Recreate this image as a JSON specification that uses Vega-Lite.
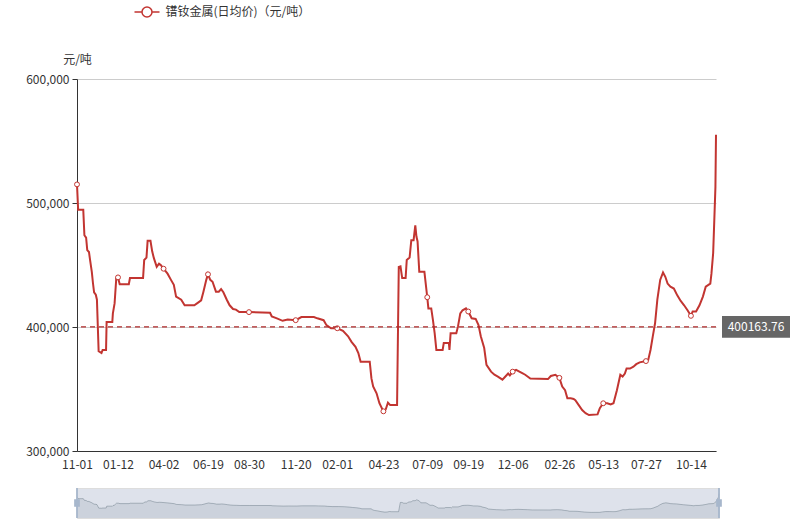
{
  "$schema": "https://vega.github.io/schema/vega-lite/v6.json",
  "autosize": {"type": "none"},
  "padding": {"left": 77, "top": 79, "right": 719, "bottom": 446},
  "background": "white",
  "bounds": "flush",
  "spacing": 37,
  "config": {
    "font": "Noto Sans CJK SC",
    "view": {"stroke": null},
    "axis": {"labelFont": "Noto Sans CJK SC", "labelFontSize": 12, "labelColor": "#333333", "titleFont": "Noto Sans CJK SC", "titleFontSize": 12, "titleFontWeight": "normal", "titleColor": "#333333"},
    "legend": {"labelFont": "Noto Sans CJK SC"}
  },
  "datasets": {
    "prices": [
      {"date": "2017-11-01", "price": 515000},
      {"date": "2017-11-03", "price": 494500},
      {"date": "2017-11-12", "price": 494500},
      {"date": "2017-11-14", "price": 474000},
      {"date": "2017-11-17", "price": 472000},
      {"date": "2017-11-19", "price": 462000},
      {"date": "2017-11-22", "price": 460500},
      {"date": "2017-11-24", "price": 454000},
      {"date": "2017-11-27", "price": 444500},
      {"date": "2017-11-29", "price": 435500},
      {"date": "2017-12-01", "price": 428000},
      {"date": "2017-12-04", "price": 426000},
      {"date": "2017-12-06", "price": 422000},
      {"date": "2017-12-09", "price": 380500},
      {"date": "2017-12-14", "price": 379000},
      {"date": "2017-12-16", "price": 381500},
      {"date": "2017-12-22", "price": 381500},
      {"date": "2017-12-23", "price": 404000},
      {"date": "2018-01-02", "price": 404000},
      {"date": "2018-01-03", "price": 411000},
      {"date": "2018-01-06", "price": 419000},
      {"date": "2018-01-09", "price": 439500},
      {"date": "2018-01-12", "price": 440000},
      {"date": "2018-01-15", "price": 434500},
      {"date": "2018-01-31", "price": 434500},
      {"date": "2018-02-02", "price": 439500},
      {"date": "2018-02-25", "price": 439500},
      {"date": "2018-02-27", "price": 454000},
      {"date": "2018-03-03", "price": 456000},
      {"date": "2018-03-05", "price": 469500},
      {"date": "2018-03-10", "price": 469500},
      {"date": "2018-03-13", "price": 461000},
      {"date": "2018-03-16", "price": 455500},
      {"date": "2018-03-21", "price": 448500},
      {"date": "2018-03-25", "price": 451000},
      {"date": "2018-03-28", "price": 450000},
      {"date": "2018-04-02", "price": 447000},
      {"date": "2018-04-09", "price": 443000},
      {"date": "2018-04-15", "price": 438000},
      {"date": "2018-04-20", "price": 434000},
      {"date": "2018-04-24", "price": 424500},
      {"date": "2018-05-03", "price": 422000},
      {"date": "2018-05-09", "price": 417500},
      {"date": "2018-05-26", "price": 417500},
      {"date": "2018-06-01", "price": 419500},
      {"date": "2018-06-07", "price": 421500},
      {"date": "2018-06-11", "price": 428500},
      {"date": "2018-06-16", "price": 438000},
      {"date": "2018-06-19", "price": 442500},
      {"date": "2018-06-23", "price": 438000},
      {"date": "2018-06-27", "price": 436500},
      {"date": "2018-07-03", "price": 428500},
      {"date": "2018-07-08", "price": 428500},
      {"date": "2018-07-12", "price": 430500},
      {"date": "2018-07-16", "price": 428000},
      {"date": "2018-07-22", "price": 422000},
      {"date": "2018-07-27", "price": 417500},
      {"date": "2018-08-02", "price": 414500},
      {"date": "2018-08-07", "price": 414000},
      {"date": "2018-08-13", "price": 412000},
      {"date": "2018-08-30", "price": 412000},
      {"date": "2018-10-06", "price": 411500},
      {"date": "2018-10-09", "price": 408500},
      {"date": "2018-10-18", "price": 407000},
      {"date": "2018-10-28", "price": 405000},
      {"date": "2018-11-06", "price": 406000},
      {"date": "2018-11-20", "price": 405500},
      {"date": "2018-11-30", "price": 408000},
      {"date": "2018-12-22", "price": 408000},
      {"date": "2018-12-28", "price": 407000},
      {"date": "2019-01-08", "price": 405500},
      {"date": "2019-01-13", "price": 401500},
      {"date": "2019-01-21", "price": 399000},
      {"date": "2019-02-01", "price": 399000},
      {"date": "2019-02-11", "price": 397000},
      {"date": "2019-02-20", "price": 392500},
      {"date": "2019-02-26", "price": 388000},
      {"date": "2019-03-05", "price": 384000},
      {"date": "2019-03-10", "price": 379000},
      {"date": "2019-03-14", "price": 372000},
      {"date": "2019-03-30", "price": 372000},
      {"date": "2019-04-02", "price": 358500},
      {"date": "2019-04-05", "price": 352000},
      {"date": "2019-04-11", "price": 346500},
      {"date": "2019-04-16", "price": 338500},
      {"date": "2019-04-23", "price": 332000},
      {"date": "2019-04-27", "price": 333500},
      {"date": "2019-05-01", "price": 339000},
      {"date": "2019-05-05", "price": 337000},
      {"date": "2019-05-17", "price": 337000},
      {"date": "2019-05-20", "price": 448500},
      {"date": "2019-05-23", "price": 449000},
      {"date": "2019-05-26", "price": 439500},
      {"date": "2019-06-01", "price": 439500},
      {"date": "2019-06-03", "price": 454000},
      {"date": "2019-06-08", "price": 456000},
      {"date": "2019-06-11", "price": 470000},
      {"date": "2019-06-15", "price": 470000},
      {"date": "2019-06-18", "price": 482000},
      {"date": "2019-06-20", "price": 473000},
      {"date": "2019-06-22", "price": 469000},
      {"date": "2019-06-25", "price": 444500},
      {"date": "2019-07-04", "price": 444500},
      {"date": "2019-07-09", "price": 424000},
      {"date": "2019-07-11", "price": 415000},
      {"date": "2019-07-16", "price": 415000},
      {"date": "2019-07-19", "price": 405500},
      {"date": "2019-07-22", "price": 395000},
      {"date": "2019-07-25", "price": 381500},
      {"date": "2019-08-05", "price": 381500},
      {"date": "2019-08-07", "price": 387000},
      {"date": "2019-08-16", "price": 387000},
      {"date": "2019-08-17", "price": 381500},
      {"date": "2019-08-19", "price": 395000},
      {"date": "2019-08-29", "price": 395000},
      {"date": "2019-09-01", "price": 400500},
      {"date": "2019-09-05", "price": 411000},
      {"date": "2019-09-09", "price": 413500},
      {"date": "2019-09-15", "price": 415000},
      {"date": "2019-09-19", "price": 412500},
      {"date": "2019-09-25", "price": 407000},
      {"date": "2019-10-02", "price": 406500},
      {"date": "2019-10-07", "price": 401500},
      {"date": "2019-10-11", "price": 392500},
      {"date": "2019-10-17", "price": 383000},
      {"date": "2019-10-21", "price": 369500},
      {"date": "2019-10-29", "price": 364000},
      {"date": "2019-11-04", "price": 361500},
      {"date": "2019-11-10", "price": 360000},
      {"date": "2019-11-18", "price": 357500},
      {"date": "2019-11-22", "price": 359500},
      {"date": "2019-11-28", "price": 362500},
      {"date": "2019-12-01", "price": 361000},
      {"date": "2019-12-06", "price": 364000},
      {"date": "2019-12-12", "price": 365500},
      {"date": "2019-12-22", "price": 363000},
      {"date": "2019-12-28", "price": 361500},
      {"date": "2020-01-06", "price": 358500},
      {"date": "2020-02-06", "price": 358000},
      {"date": "2020-02-11", "price": 360500},
      {"date": "2020-02-19", "price": 361500},
      {"date": "2020-02-26", "price": 359000},
      {"date": "2020-03-02", "price": 352000},
      {"date": "2020-03-07", "price": 349000},
      {"date": "2020-03-11", "price": 342500},
      {"date": "2020-03-17", "price": 342500},
      {"date": "2020-03-22", "price": 342000},
      {"date": "2020-03-25", "price": 341000},
      {"date": "2020-03-31", "price": 337000},
      {"date": "2020-04-06", "price": 333000},
      {"date": "2020-04-12", "price": 330500},
      {"date": "2020-04-18", "price": 329000},
      {"date": "2020-05-03", "price": 329500},
      {"date": "2020-05-07", "price": 334500},
      {"date": "2020-05-13", "price": 338500},
      {"date": "2020-05-20", "price": 338500},
      {"date": "2020-05-26", "price": 337500},
      {"date": "2020-05-31", "price": 338500},
      {"date": "2020-06-06", "price": 349000},
      {"date": "2020-06-12", "price": 361500},
      {"date": "2020-06-16", "price": 360000},
      {"date": "2020-06-20", "price": 362500},
      {"date": "2020-06-23", "price": 366500},
      {"date": "2020-06-29", "price": 366500},
      {"date": "2020-07-05", "price": 368000},
      {"date": "2020-07-10", "price": 370000},
      {"date": "2020-07-16", "price": 371500},
      {"date": "2020-07-27", "price": 372500},
      {"date": "2020-07-31", "price": 373500},
      {"date": "2020-08-04", "price": 381500},
      {"date": "2020-08-08", "price": 392500},
      {"date": "2020-08-12", "price": 403000},
      {"date": "2020-08-16", "price": 422000},
      {"date": "2020-08-21", "price": 438000},
      {"date": "2020-08-26", "price": 444000},
      {"date": "2020-08-30", "price": 440500},
      {"date": "2020-09-03", "price": 435000},
      {"date": "2020-09-08", "price": 432500},
      {"date": "2020-09-14", "price": 431000},
      {"date": "2020-09-20", "price": 425500},
      {"date": "2020-09-26", "price": 421000},
      {"date": "2020-10-02", "price": 417500},
      {"date": "2020-10-08", "price": 413500},
      {"date": "2020-10-14", "price": 409000},
      {"date": "2020-10-17", "price": 412500},
      {"date": "2020-10-23", "price": 412500},
      {"date": "2020-10-29", "price": 417500},
      {"date": "2020-11-04", "price": 424500},
      {"date": "2020-11-09", "price": 432500},
      {"date": "2020-11-17", "price": 435000},
      {"date": "2020-11-19", "price": 443000},
      {"date": "2020-11-22", "price": 459500},
      {"date": "2020-11-24", "price": 486000},
      {"date": "2020-11-26", "price": 513000},
      {"date": "2020-11-27", "price": 555000}
    ],
    "avg": [{"mean": 400163.76}]
  },
  "vconcat": [
    {
      "width": 639,
      "height": 372,
      "layer": [
        {
          "data": {"name": "prices"},
          "mark": {"type": "line", "strokeWidth": 2, "interpolate": "linear"},
          "encoding": {
            "x": {
              "field": "date", "type": "temporal",
              "scale": {"type": "utc", "nice": false},
              "axis": {
                "title": null,
                "values": [
                  {"year": 2017, "month": 11, "date": 1, "utc": true},
                  {"year": 2018, "month": 1, "date": 12, "utc": true},
                  {"year": 2018, "month": 4, "date": 2, "utc": true},
                  {"year": 2018, "month": 6, "date": 19, "utc": true},
                  {"year": 2018, "month": 8, "date": 30, "utc": true},
                  {"year": 2018, "month": 11, "date": 20, "utc": true},
                  {"year": 2019, "month": 2, "date": 1, "utc": true},
                  {"year": 2019, "month": 4, "date": 23, "utc": true},
                  {"year": 2019, "month": 7, "date": 9, "utc": true},
                  {"year": 2019, "month": 9, "date": 19, "utc": true},
                  {"year": 2019, "month": 12, "date": 6, "utc": true},
                  {"year": 2020, "month": 2, "date": 26, "utc": true},
                  {"year": 2020, "month": 5, "date": 13, "utc": true},
                  {"year": 2020, "month": 7, "date": 27, "utc": true},
                  {"year": 2020, "month": 10, "date": 14, "utc": true}
                ],
                "labelExpr": "utcFormat(datum.value, '%m-%d')",
                "ticks": false,
                "tickSize": 0,
                "labelPadding": 8,
                "domainColor": "#333333",
                "grid": false,
                "labelOverlap": false,
                "labelFlush": false
              }
            },
            "y": {
              "field": "price", "type": "quantitative",
              "scale": {"domain": [300000, 600000], "nice": false, "zero": false},
              "axis": {
                "values": [300000, 400000, 500000, 600000],
                "labelExpr": "format(datum.value, ',')",
                "title": "元/吨",
                "titleAngle": 0,
                "titleX": 0,
                "titleY": -20,
                "titleAlign": "center",
                "titleBaseline": "middle",
                "tickSize": 5,
                "tickColor": "#333333",
                "domainColor": "#333333",
                "labelPadding": 3,
                "grid": true,
                "gridColor": "#cccccc"
              }
            },
            "color": {
              "datum": "镨钕金属(日均价)（元/吨）",
              "type": "nominal",
              "scale": {"range": ["#c23531"]},
              "legend": {
                "orient": "none",
                "legendX": 56.5,
                "legendY": -80.5,
                "title": null,
                "direction": "horizontal",
                "symbolType": "M-1,0H-0.4M0.4,0H1M-0.4,0A0.4,0.4,0,1,1,0.4,0A0.4,0.4,0,1,1,-0.4,0",
                "symbolSize": 625,
                "symbolStrokeWidth": 1.5,
                "labelFontSize": 12,
                "labelColor": "#333333",
                "labelOffset": 5,
                "padding": 0
              }
            }
          }
        },
        {
          "data": {"name": "prices"},
          "transform": [
            {"filter": "indexof(['2017-11-01','2018-01-12','2018-04-02','2018-06-19','2018-08-30','2018-11-20','2019-02-01','2019-04-23','2019-07-09','2019-09-19','2019-12-06','2020-02-26','2020-05-13','2020-07-27','2020-10-14'], utcFormat(toDate(datum.date), '%Y-%m-%d')) >= 0"}
          ],
          "mark": {"type": "point", "filled": true, "fill": "white", "stroke": "#c23531", "strokeWidth": 1, "size": 24, "opacity": 1},
          "encoding": {
            "x": {"field": "date", "type": "temporal"},
            "y": {"field": "price", "type": "quantitative"}
          }
        },
        {
          "data": {"name": "avg"},
          "mark": {"type": "rule", "color": "#b02a2a", "strokeDash": [5, 4], "strokeWidth": 1.3},
          "encoding": {"y": {"field": "mean", "type": "quantitative"}}
        },
        {
          "data": {"name": "avg"},
          "mark": {"type": "point", "shape": "M-1,-0.32H1V0.32H-1Z", "size": 4624, "filled": true, "color": "#666666", "opacity": 1, "xOffset": 40, "clip": false},
          "encoding": {
            "x": {"value": "width"},
            "y": {"field": "mean", "type": "quantitative"}
          }
        },
        {
          "data": {"name": "avg"},
          "mark": {"type": "text", "color": "white", "fontSize": 12, "align": "center", "baseline": "middle", "dx": 40},
          "encoding": {
            "x": {"value": "width"},
            "y": {"field": "mean", "type": "quantitative"},
            "text": {"field": "mean", "type": "quantitative", "format": ".2f"}
          }
        }
      ]
    },
    {
      "width": 642,
      "height": 30,
      "view": {"fill": "#dee2eb", "stroke": "#dddddd"},
      "layer": [
        {
          "data": {"name": "prices"},
          "mark": {"type": "area", "color": "#2f4554", "opacity": 0.1, "clip": true},
          "encoding": {
            "x": {"field": "date", "type": "temporal", "scale": {"type": "utc", "nice": false}, "axis": null},
            "y": {"field": "price", "type": "quantitative", "scale": {"domain": [261000, 623000], "zero": false, "nice": false}, "axis": null},
            "y2": {"value": "height"}
          }
        },
        {
          "data": {"name": "prices"},
          "mark": {"type": "line", "color": "#2f4554", "opacity": 0.3, "strokeWidth": 1},
          "encoding": {
            "x": {"field": "date", "type": "temporal"},
            "y": {"field": "price", "type": "quantitative"}
          }
        },
        {
          "data": {"name": "prices"},
          "transform": [
            {"filter": "indexof(['2017-11-01','2020-11-27'], utcFormat(toDate(datum.date), '%Y-%m-%d')) >= 0"}
          ],
          "mark": {"type": "point", "shape": "M-0.06,-1H0.06V-0.25H0.19V0.25H0.06V1H-0.06V0.25H-0.19V-0.25H-0.06Z", "size": 900, "filled": true, "color": "#a7b7cc", "opacity": 1, "clip": false},
          "encoding": {
            "x": {"field": "date", "type": "temporal"}
          }
        }
      ]
    }
  ]
}
